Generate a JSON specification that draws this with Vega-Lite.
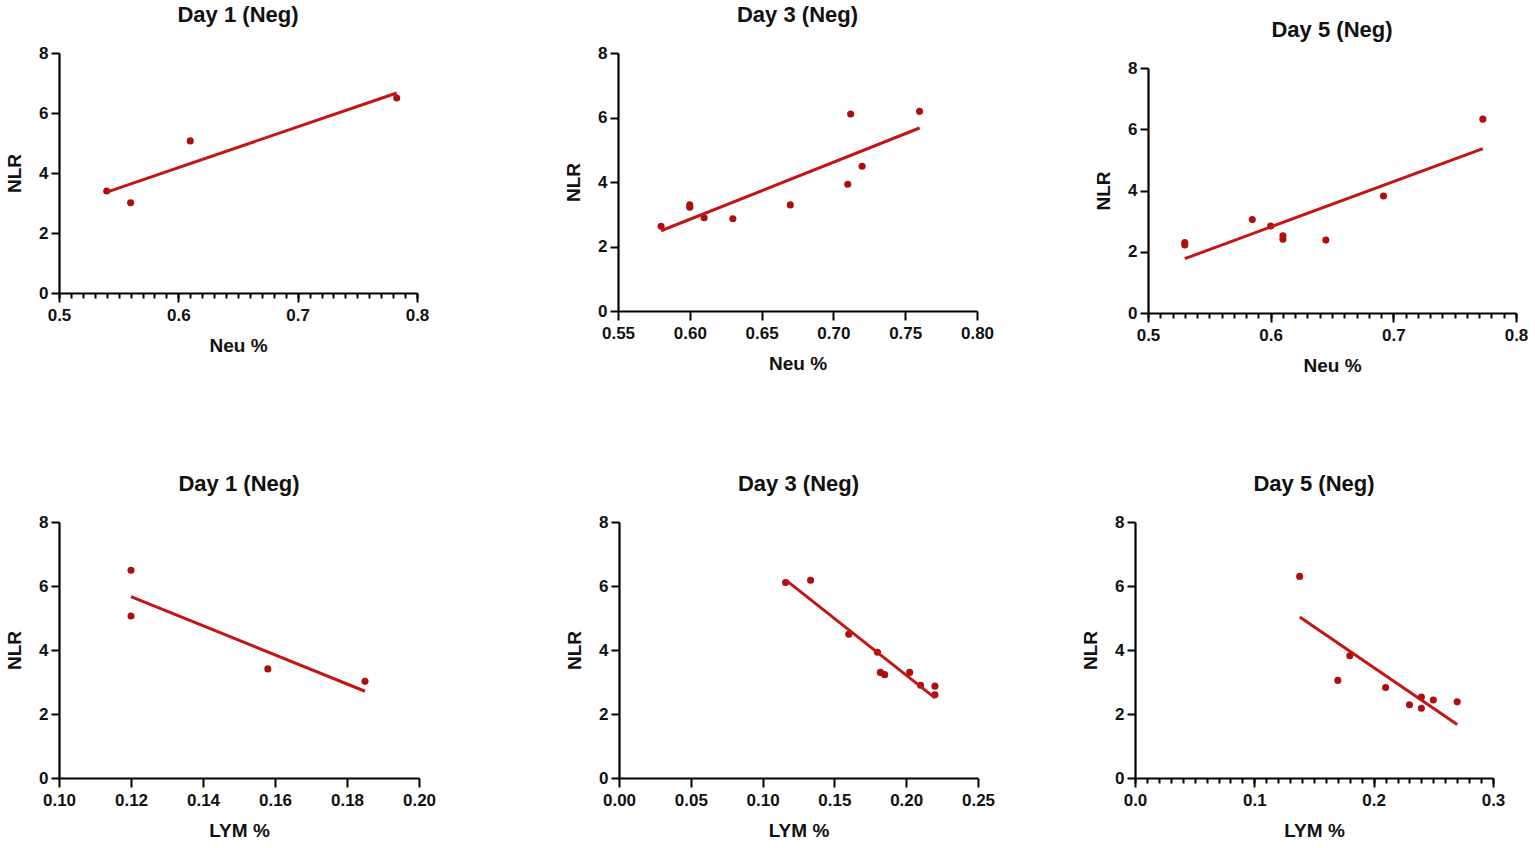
{
  "$schema": "https://vega.github.io/schema/vega-lite/v6.json",
  "background": "#ffffff",
  "padding": {"left": 5, "top": 4, "right": 4, "bottom": 2},
  "datasets": {
    "day1_neu": [
      {"neu": 0.54, "nlr": 3.40},
      {"neu": 0.56, "nlr": 3.01},
      {"neu": 0.61, "nlr": 5.07},
      {"neu": 0.783, "nlr": 6.50}
    ],
    "day3_neu": [
      {"neu": 0.58, "nlr": 2.63},
      {"neu": 0.60, "nlr": 3.29},
      {"neu": 0.60, "nlr": 3.22},
      {"neu": 0.61, "nlr": 2.89},
      {"neu": 0.63, "nlr": 2.86},
      {"neu": 0.67, "nlr": 3.29},
      {"neu": 0.71, "nlr": 3.93},
      {"neu": 0.712, "nlr": 6.11},
      {"neu": 0.72, "nlr": 4.49},
      {"neu": 0.76, "nlr": 6.19}
    ],
    "day5_neu": [
      {"neu": 0.53, "nlr": 2.30},
      {"neu": 0.53, "nlr": 2.22},
      {"neu": 0.585, "nlr": 3.05},
      {"neu": 0.60, "nlr": 2.84},
      {"neu": 0.61, "nlr": 2.52},
      {"neu": 0.61, "nlr": 2.41},
      {"neu": 0.645, "nlr": 2.38},
      {"neu": 0.692, "nlr": 3.82},
      {"neu": 0.773, "nlr": 6.33}
    ],
    "day1_lym": [
      {"lym": 0.12, "nlr": 6.49},
      {"lym": 0.12, "nlr": 5.06},
      {"lym": 0.158, "nlr": 3.41},
      {"lym": 0.185, "nlr": 3.02}
    ],
    "day3_lym": [
      {"lym": 0.116, "nlr": 6.11},
      {"lym": 0.1334, "nlr": 6.18},
      {"lym": 0.16, "nlr": 4.49},
      {"lym": 0.18, "nlr": 3.93},
      {"lym": 0.182, "nlr": 3.30},
      {"lym": 0.185, "nlr": 3.23},
      {"lym": 0.2024, "nlr": 3.30},
      {"lym": 0.21, "nlr": 2.90},
      {"lym": 0.22, "nlr": 2.87},
      {"lym": 0.22, "nlr": 2.60}
    ],
    "day5_lym": [
      {"lym": 0.138, "nlr": 6.30},
      {"lym": 0.17, "nlr": 3.05},
      {"lym": 0.18, "nlr": 3.82},
      {"lym": 0.21, "nlr": 2.83},
      {"lym": 0.23, "nlr": 2.29},
      {"lym": 0.24, "nlr": 2.53},
      {"lym": 0.24, "nlr": 2.18},
      {"lym": 0.25, "nlr": 2.44},
      {"lym": 0.27, "nlr": 2.38}
    ]
  },
  "spacing": 98,
  "vconcat": [
    {
      "spacing": 135,
      "hconcat": [
        {
          "title": "Day 1 (Neg)",
          "width": 358,
          "height": 240,
          "data": {"name": "day1_neu"},
          "layer": [
            {
              "mark": {"type": "point", "filled": true, "size": 50, "color": "#B00E0E", "opacity": 1},
              "encoding": {
                "x": {"field": "neu", "type": "quantitative", "scale": {"domain": [0.5, 0.8], "nice": false, "zero": false},
                  "axis": {"orient": "bottom", "values": [0.5, 0.6, 0.7, 0.8], "format": ".1f", "title": "Neu %", "tickSize": 9}},
                "y": {"field": "nlr", "type": "quantitative", "scale": {"domain": [0, 8], "nice": false},
                  "axis": {"values": [0, 2, 4, 6, 8], "title": "NLR"}}
              }
            },
            {
              "transform": [{"regression": "nlr", "on": "neu"}],
              "mark": {"type": "line", "color": "#C41515", "strokeWidth": 3},
              "encoding": {
                "x": {"field": "neu", "type": "quantitative", "scale": {"domain": [0.5, 0.8], "nice": false, "zero": false},
                  "axis": {"orient": "bottom", "values": [0.5, 0.51, 0.52, 0.53, 0.54, 0.55, 0.56, 0.57, 0.58, 0.59, 0.6, 0.61, 0.62, 0.63, 0.64, 0.65, 0.66, 0.67, 0.68, 0.69, 0.7, 0.71, 0.72, 0.73, 0.74, 0.75, 0.76, 0.77, 0.78, 0.79, 0.8], "labels": false, "domain": false, "title": null, "tickSize": 5}},
                "y": {"field": "nlr", "type": "quantitative"}
              }
            }
          ],
          "resolve": {"axis": {"x": "independent"}}
        },
        {
          "spacing": 100,
          "hconcat": [
            {
              "title": "Day 3 (Neg)",
              "width": 359,
              "height": 258,
              "data": {"name": "day3_neu"},
              "layer": [
                {
                  "mark": {"type": "point", "filled": true, "size": 50, "color": "#B00E0E", "opacity": 1},
                  "encoding": {
                    "x": {"field": "neu", "type": "quantitative", "scale": {"domain": [0.55, 0.8], "nice": false, "zero": false},
                      "axis": {"values": [0.55, 0.6, 0.65, 0.7, 0.75, 0.8], "format": ".2f", "title": "Neu %", "tickSize": 9}},
                    "y": {"field": "nlr", "type": "quantitative", "scale": {"domain": [0, 8], "nice": false},
                      "axis": {"values": [0, 2, 4, 6, 8], "title": "NLR"}}
                  }
                },
                {
                  "transform": [{"regression": "nlr", "on": "neu"}],
                  "mark": {"type": "line", "color": "#C41515", "strokeWidth": 3},
                  "encoding": {
                    "x": {"field": "neu", "type": "quantitative"},
                    "y": {"field": "nlr", "type": "quantitative"}
                  }
                }
              ]
            },
            {
              "spacing": -35,
              "vconcat": [
                {
                  "width": 368,
                  "height": 1,
                  "data": {"values": []},
                  "mark": {"type": "point", "opacity": 0},
                  "encoding": {}
                },
                {
                  "title": "Day 5 (Neg)",
                  "width": 368,
                  "height": 245,
                  "data": {"name": "day5_neu"},
                  "layer": [
                    {
                      "mark": {"type": "point", "filled": true, "size": 50, "color": "#B00E0E", "opacity": 1},
                      "encoding": {
                        "x": {"field": "neu", "type": "quantitative", "scale": {"domain": [0.5, 0.8], "nice": false, "zero": false},
                          "axis": {"orient": "bottom", "values": [0.5, 0.6, 0.7, 0.8], "format": ".1f", "title": "Neu %", "tickSize": 9}},
                        "y": {"field": "nlr", "type": "quantitative", "scale": {"domain": [0, 8], "nice": false},
                          "axis": {"values": [0, 2, 4, 6, 8], "title": "NLR"}}
                      }
                    },
                    {
                      "transform": [{"regression": "nlr", "on": "neu"}],
                      "mark": {"type": "line", "color": "#C41515", "strokeWidth": 3},
                      "encoding": {
                        "x": {"field": "neu", "type": "quantitative", "scale": {"domain": [0.5, 0.8], "nice": false, "zero": false},
                          "axis": {"orient": "bottom", "values": [0.5, 0.51, 0.52, 0.53, 0.54, 0.55, 0.56, 0.57, 0.58, 0.59, 0.6, 0.61, 0.62, 0.63, 0.64, 0.65, 0.66, 0.67, 0.68, 0.69, 0.7, 0.71, 0.72, 0.73, 0.74, 0.75, 0.76, 0.77, 0.78, 0.79, 0.8], "labels": false, "domain": false, "title": null, "tickSize": 5}},
                        "y": {"field": "nlr", "type": "quantitative"}
                      }
                    }
                  ],
                  "resolve": {"axis": {"x": "independent"}}
                }
              ]
            }
          ]
        }
      ]
    },
    {
      "spacing": 129,
      "hconcat": [
        {
          "title": "Day 1 (Neg)",
          "width": 360,
          "height": 256,
          "data": {"name": "day1_lym"},
          "layer": [
            {
              "mark": {"type": "point", "filled": true, "size": 50, "color": "#B00E0E", "opacity": 1},
              "encoding": {
                "x": {"field": "lym", "type": "quantitative", "scale": {"domain": [0.1, 0.2], "nice": false, "zero": false},
                  "axis": {"values": [0.1, 0.12, 0.14, 0.16, 0.18, 0.2], "format": ".2f", "title": "LYM %", "tickSize": 9}},
                "y": {"field": "nlr", "type": "quantitative", "scale": {"domain": [0, 8], "nice": false},
                  "axis": {"values": [0, 2, 4, 6, 8], "title": "NLR"}}
              }
            },
            {
              "transform": [{"regression": "nlr", "on": "lym"}],
              "mark": {"type": "line", "color": "#C41515", "strokeWidth": 3},
              "encoding": {
                "x": {"field": "lym", "type": "quantitative"},
                "y": {"field": "nlr", "type": "quantitative"}
              }
            }
          ]
        },
        {
          "spacing": 86,
          "hconcat": [
            {
              "title": "Day 3 (Neg)",
              "width": 359,
              "height": 256,
              "data": {"name": "day3_lym"},
              "layer": [
                {
                  "mark": {"type": "point", "filled": true, "size": 50, "color": "#B00E0E", "opacity": 1},
                  "encoding": {
                    "x": {"field": "lym", "type": "quantitative", "scale": {"domain": [0, 0.25], "nice": false, "zero": false},
                      "axis": {"values": [0, 0.05, 0.1, 0.15, 0.2, 0.25], "format": ".2f", "title": "LYM %", "tickSize": 9}},
                    "y": {"field": "nlr", "type": "quantitative", "scale": {"domain": [0, 8], "nice": false},
                      "axis": {"values": [0, 2, 4, 6, 8], "title": "NLR"}}
                  }
                },
                {
                  "transform": [{"regression": "nlr", "on": "lym"}],
                  "mark": {"type": "line", "color": "#C41515", "strokeWidth": 3},
                  "encoding": {
                    "x": {"field": "lym", "type": "quantitative"},
                    "y": {"field": "nlr", "type": "quantitative"}
                  }
                }
              ]
            },
            {
              "title": "Day 5 (Neg)",
              "width": 358,
              "height": 256,
              "data": {"name": "day5_lym"},
              "layer": [
                {
                  "mark": {"type": "point", "filled": true, "size": 50, "color": "#B00E0E", "opacity": 1},
                  "encoding": {
                    "x": {"field": "lym", "type": "quantitative", "scale": {"domain": [0, 0.3], "nice": false, "zero": false},
                      "axis": {"orient": "bottom", "values": [0, 0.1, 0.2, 0.3], "format": ".1f", "title": "LYM %", "tickSize": 9}},
                    "y": {"field": "nlr", "type": "quantitative", "scale": {"domain": [0, 8], "nice": false},
                      "axis": {"values": [0, 2, 4, 6, 8], "title": "NLR"}}
                  }
                },
                {
                  "transform": [{"regression": "nlr", "on": "lym"}],
                  "mark": {"type": "line", "color": "#C41515", "strokeWidth": 3},
                  "encoding": {
                    "x": {"field": "lym", "type": "quantitative", "scale": {"domain": [0, 0.3], "nice": false, "zero": false},
                      "axis": {"orient": "bottom", "values": [0, 0.01, 0.02, 0.03, 0.04, 0.05, 0.06, 0.07, 0.08, 0.09, 0.1, 0.11, 0.12, 0.13, 0.14, 0.15, 0.16, 0.17, 0.18, 0.19, 0.2, 0.21, 0.22, 0.23, 0.24, 0.25, 0.26, 0.27, 0.28, 0.29, 0.3], "labels": false, "domain": false, "title": null, "tickSize": 5}},
                    "y": {"field": "nlr", "type": "quantitative"}
                  }
                }
              ],
              "resolve": {"axis": {"x": "independent"}}
            }
          ]
        }
      ]
    }
  ],
  "config": {
    "font": "Liberation Sans",
    "view": {"stroke": null},
    "title": {"fontSize": 22, "fontWeight": "bold", "color": "#111111", "offset": 17},
    "axis": {
      "grid": false,
      "domainColor": "#000000",
      "domainWidth": 2.2,
      "tickColor": "#000000",
      "tickWidth": 2,
      "labelFont": "Liberation Sans",
      "labelFontSize": 17,
      "labelFontWeight": "bold",
      "labelColor": "#111111",
      "labelOverlap": false,
      "labelFlush": false,
      "titleFont": "Liberation Sans",
      "titleFontSize": 19,
      "titleFontWeight": "bold",
      "titleColor": "#111111"
    },
    "axisX": {"labelPadding": 5, "titlePadding": 13},
    "axisY": {"tickSize": 8, "labelPadding": 3, "titlePadding": 14}
  }
}
